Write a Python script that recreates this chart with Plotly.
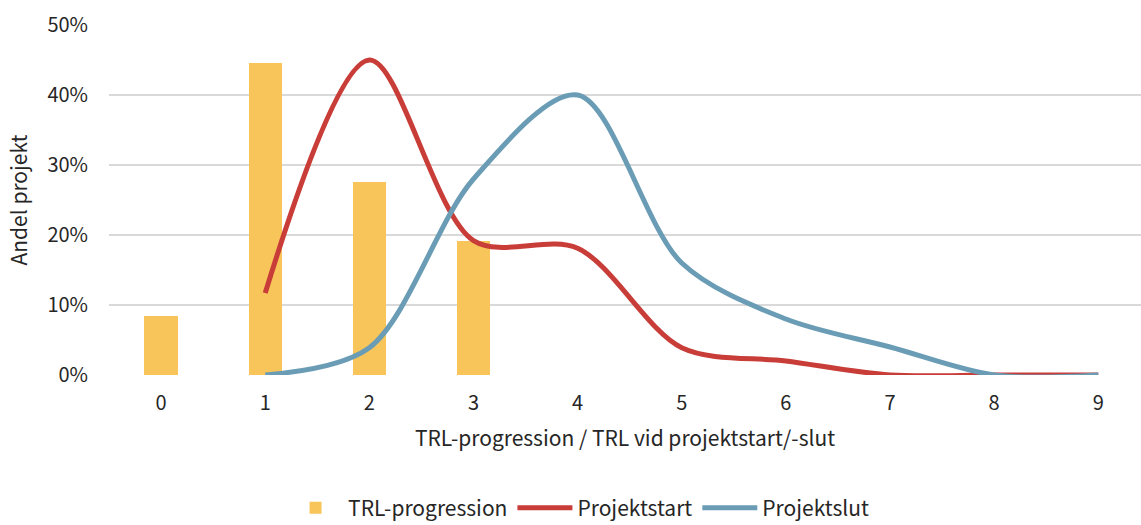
import plotly.graph_objects as go

categories = [0, 1, 2, 3, 4, 5, 6, 7, 8, 9]
trl_progression = [0.084, 0.446, 0.276, 0.191, None, None, None, None, None, None]
projektstart_x = [1, 2, 3, 4, 5, 6, 7, 8, 9]
projektstart = [0.117, 0.450, 0.192, 0.181, 0.039, 0.020, 0.0, 0.0, 0.0]
projektslut_x = [1, 2, 3, 4, 5, 6, 7, 8, 9]
projektslut = [0.0, 0.039, 0.280, 0.400, 0.160, 0.080, 0.040, 0.0, 0.0]
y_ticks = [0, 0.1, 0.2, 0.3, 0.4, 0.5]
y_ticklabels = ["0%", "10%", "20%", "30%", "40%", "50%"]

FONT = "Noto Sans CJK JP, Noto Sans, sans-serif"
TXT = "#262626"

fig = go.Figure()
fig.add_trace(go.Bar(x=categories, y=trl_progression, name="TRL-progression",
                     marker=dict(color="#F7C55A", line=dict(width=0)), width=0.32))
fig.add_trace(go.Scatter(x=projektstart_x, y=projektstart, name="Projektstart", mode="lines",
                         line=dict(color="#C93D39", width=5, shape="spline", smoothing=0.9)))
fig.add_trace(go.Scatter(x=projektslut_x, y=projektslut, name="Projektslut", mode="lines",
                         line=dict(color="#6A9DB5", width=5, shape="spline", smoothing=0.9)))

fig.update_layout(
    width=1141, height=525,
    margin=dict(l=109, r=0, t=25, b=150, autoexpand=False),
    paper_bgcolor="white", plot_bgcolor="white",
    font=dict(family=FONT, size=20, color=TXT),
    showlegend=True,
    legend=dict(orientation="h", x=0.455, xanchor="center", y=-0.38, yanchor="middle",
                font=dict(size=21, color=TXT), traceorder="normal", itemwidth=55,
                tracegroupgap=0),
    bargap=0,
)
fig.update_xaxes(range=[-0.5, 9.41], tickmode="array", tickvals=categories,
                 ticktext=[str(c) for c in categories], showgrid=False, zeroline=False,
                 showline=False, ticks="", tickfont=dict(size=20, color=TXT), automargin=False,
                 ticklabelstandoff=14,
                 title=dict(text="TRL-progression / TRL vid projektstart/-slut",
                            font=dict(size=21, color=TXT), standoff=16))
fig.update_yaxes(range=[0, 0.5], tickmode="array", tickvals=y_ticks, ticktext=y_ticklabels,
                 showgrid=True, gridcolor="#D9D9D9", gridwidth=2, zeroline=False,
                 showline=False, ticks="", tickfont=dict(size=20, color=TXT), ticklabelstandoff=20,
                 automargin=False,
                 title=dict(text="Andel projekt", font=dict(size=21, color=TXT), standoff=14))

fig.write_html("out.html")
